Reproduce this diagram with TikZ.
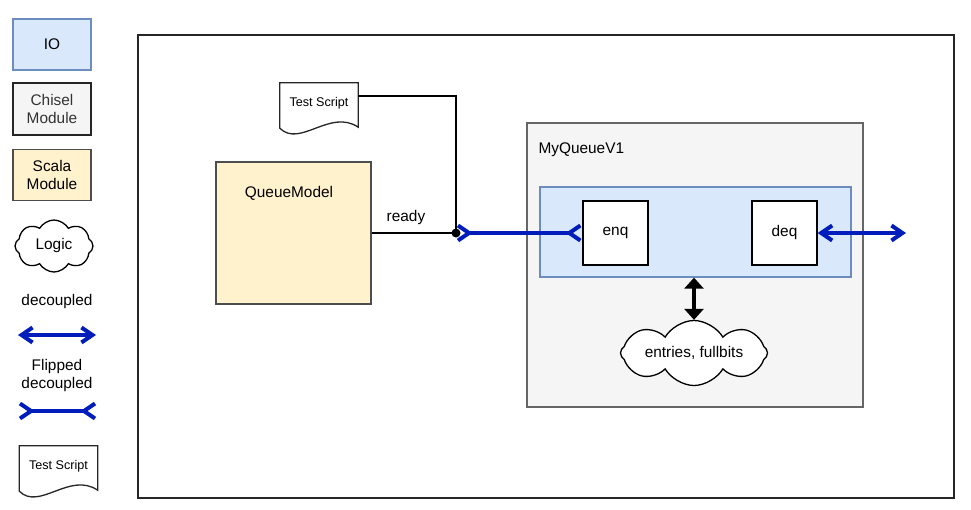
\documentclass[tikz,border=0pt]{standalone}
\usepackage{fontspec}
\setmainfont{Liberation Sans}
\usetikzlibrary{shapes.symbols, arrows.meta, positioning, calc}
\definecolor{iofill}{HTML}{DAE8FC}
\definecolor{iodraw}{HTML}{6C8EBF}
\definecolor{chiselfill}{HTML}{F5F5F5}
\definecolor{chiseldraw}{HTML}{666666}
\definecolor{scalafill}{HTML}{FFF2CC}
\definecolor{scaladraw}{HTML}{4D4D4D}
\definecolor{busblue}{HTML}{001DBC}

\tikzset{
  every node/.style={font=\fontsize{15.4}{18}\selectfont},
  iobox/.style={draw=iodraw, fill=iofill, line width=1.3pt, minimum width=78, minimum height=51},
  chiselbox/.style={draw=chiseldraw, fill=chiselfill, line width=1.3pt, text=black!80, align=center, minimum width=78, minimum height=52},
  scalabox/.style={draw=scaladraw, fill=scalafill, line width=1.3pt, align=center, minimum width=78, minimum height=51},
  portbox/.style={draw=black, fill=white, line width=1.3pt, minimum width=65, minimum height=64},
  logiccloud/.style={cloud, cloud puffs=8, cloud puff arc=120, cloud ignores aspect, draw=black, fill=white, line width=1.3pt, inner sep=0pt},
  docnode/.style={minimum width=78, minimum height=40, font=\fontsize{12.6}{15}\selectfont},
  docline/.style={draw=black!85, fill=white, line width=1.3pt},
  wire/.style={draw=black, line width=2.8pt},
  decoupled/.style={busblue, line width=4pt, {Straight Barb[length=11pt, width=15pt]}-{Straight Barb[length=11pt, width=15pt]}},
  flipped/.style={busblue, line width=4pt, {Straight Barb[length=11pt, width=15pt, reversed]}-{Straight Barb[length=11pt, width=15pt, reversed]}},
  storage/.style={draw=black, line width=4.5pt, {Triangle[length=11pt, width=19pt]}-{Triangle[length=11pt, width=19pt]}},
}

% document shape with a wavy bottom, drawn round a node
\newcommand{\docshape}[1]{%
  \draw[docline] (#1.north west) -- (#1.north east) -- ($(#1.south east)+(0,-4)$)
    .. controls ($(#1.south east)+(-28,15)$) and ($(#1.south west)+(20,-25)$) .. ($(#1.south west)+(0,-5)$) -- cycle;
  \node[docnode] at (#1.center) {\docname};}

\begin{document}
\begin{tikzpicture}[x=1pt, y=1pt]
  \useasboundingbox (0,0) rectangle (971,-509);

  % Legend
  \node[iobox] (lgio) at (52,-44.5) {IO};
  \node[chiselbox, draw=black!85] (lgchisel) at (52,-109) {Chisel\\Module};
  \node[scalabox] (lgscala) at (52,-175) {Scala\\Module};
  \node[logiccloud, minimum width=78, minimum height=52] (lglogic) at (54,-246) {Logic};
  \node (lgdec) at (57,-302) {decoupled};
  \coordinate (deca) at (18,-335);
  \coordinate (decb) at (96,-335);
  \draw[decoupled] (deca) -- (decb);
  \node[align=center] (lgflip) at (57,-376) {Flipped\\decoupled};
  \coordinate (flipa) at (18,-411);
  \coordinate (flipb) at (97,-411);
  \draw[flipped] (flipa) -- (flipb);
  \def\docname{Test Script}
  \node[docnode] (lgdoc) at (58.5,-466) {};
  \docshape{lgdoc}

  % Test bench
  \node[draw=black!85, line width=1.3pt, minimum width=816, minimum height=463] (tb) at (546,-266.5) {};
  \node[docnode] (ts) at (319,-103) {};
  \docshape{ts}

  \node[scalabox, minimum width=155, minimum height=142] (qm) at (293.5,-233) {};
  \node (qmlabel) at (289,-193) {QueueModel};

  % MyQueueV1
  \node[chiselbox, minimum width=336, minimum height=284] (mq) at (695,-265) {};
  \node[anchor=west] (mqlabel) at (535,-150) {MyQueueV1};
  \node[iobox, minimum width=311, minimum height=90] (io) at (695.5,-232) {};
  \node[portbox] (enq) at (615.5,-233) {enq};
  \node[portbox] (deq) at (784.5,-233) {deq};
  \node[logiccloud, minimum width=147, minimum height=65] (fb) at (694,-353) {entries, fullbits};

  % Connections
  \node[circle, fill=black, inner sep=0pt, minimum size=9] (jn) at (456,-233) {};
  \coordinate (deqout) at (906,-233);
  \draw[wire] ([yshift=7]ts.east) -| (jn.center);
  \draw[wire] (qm.east) -- (jn.center);
  \node (readylbl) at (406,-218) {ready};
  \draw[flipped] (jn.center) -- (enq.west);
  \draw[decoupled] (deq.east) -- (deqout);
  \draw[storage] (io.south -| fb.north) -- (fb.north);
\end{tikzpicture}
\end{document}
